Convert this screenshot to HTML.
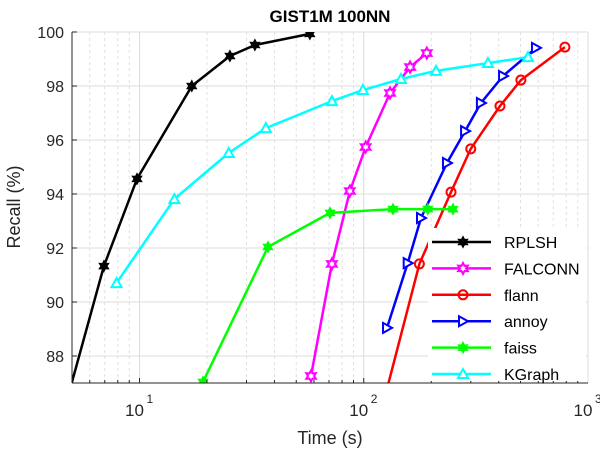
<!DOCTYPE html>
<html><head><meta charset="utf-8"><style>
html,body{margin:0;padding:0;background:#fff;}
svg{display:block;font-family:"Liberation Sans",Arial,sans-serif;}
</style></head><body>
<svg id="chart" width="600" height="450" xmlns="http://www.w3.org/2000/svg">
<defs><clipPath id="plotclip"><rect x="72" y="32" width="516" height="351"/></clipPath></defs>
<rect width="600" height="450" fill="#fff"/>
<g id="grid"></g>
<g id="series" clip-path="url(#plotclip)"></g>
<g id="axes"></g>
<g id="legend"></g>
<text x="330" y="22" text-anchor="middle" font-size="17" font-weight="bold">GIST1M 100NN</text>
<text x="330" y="444" text-anchor="middle" font-size="18" fill="#262626">Time (s)</text>
<text transform="translate(20,207) rotate(-90)" text-anchor="middle" font-size="18" fill="#262626">Recall (%)</text>
</svg>
<script>
const seriesNames = ["RPLSH","FALCONN","flann","annoy","faiss","KGraph"];
const rplshTime = [4.8, 6.94, 9.75, 17.1, 25.3, 32.7, 57.5];
const rplshRecall = [86.5, 91.33, 94.56, 98.0, 99.11, 99.52, 99.93];
const falconnTime = [58.2, 72.1, 86.7, 102, 131, 161, 191];
const falconnRecall = [87.26, 91.41, 94.11, 95.74, 97.74, 98.70, 99.22];
const flannTime = [120, 177, 245, 300, 405, 502, 789];
const flannRecall = [86.0, 91.41, 94.07, 95.67, 97.26, 98.22, 99.44];
const annoyTime = [127, 157, 180, 235, 283, 333, 418, 586];
const annoyRecall = [89.04, 91.44, 93.11, 95.15, 96.33, 97.37, 98.37, 99.41];
const faissTime = [19.2, 37.4, 70.7, 135, 193, 250];
const faissRecall = [87.04, 92.04, 93.30, 93.44, 93.44, 93.44];
const kgraphTime = [7.9, 14.3, 25.0, 36.6, 72.1, 99.1, 146.5, 210, 358, 540];
const kgraphRecall = [90.70, 93.81, 95.52, 96.44, 97.44, 97.85, 98.26, 98.56, 98.85, 99.07];
const yTicks = [88, 90, 92, 94, 96, 98, 100];
const xDecades = [1, 2, 3];

const X0=72, X1=588, Y0=32, Y1=383, XMIN=5, XMAX=1000, YMIN=87, YMAX=100;
const xs = t => X0 + (Math.log10(t)-Math.log10(XMIN))/(Math.log10(XMAX)-Math.log10(XMIN))*(X1-X0);
const ys = v => Y0 + (YMAX-v)/(YMAX-YMIN)*(Y1-Y0);
const NS="http://www.w3.org/2000/svg";
function mk(tag, attrs, parent){const e=document.createElementNS(NS,tag);for(const k in attrs)e.setAttribute(k,attrs[k]);parent.appendChild(e);return e;}
const grid=document.getElementById('grid'), ser=document.getElementById('series'), axes=document.getElementById('axes'), leg=document.getElementById('legend');

for(let d=0; d<3; d++){for(let m=1;m<=9;m++){const t=m*Math.pow(10,d);if(t<XMIN||t>XMAX)continue;
 const x=xs(t);
 if(m===1){const l=mk('line',{x1:x,x2:x,y1:Y0,y2:Y1,stroke:'#dcdcdc','stroke-width':1},grid);
  }
 else{const l=mk('line',{x1:x,x2:x,y1:Y0,y2:Y1,stroke:'#e0e0e0','stroke-width':1,'stroke-dasharray':'3,3'},grid);
  }
 const tk=mk('line',{x1:x,x2:x,y1:Y1,y2:Y1-(m===1?5:3),stroke:'#262626','stroke-width':1},axes);
 
}}
{const x=xs(1000);const l=mk('line',{x1:x,x2:x,y1:Y0,y2:Y1,stroke:'#dcdcdc','stroke-width':1},grid);
 }
yTicks.forEach(v=>{const y=ys(v);
 const l=mk('line',{x1:X0,x2:X1,y1:y,y2:y,stroke:'#dcdcdc','stroke-width':1},grid);
 
 const tk=mk('line',{x1:X0,x2:X0+5,y1:y,y2:y,stroke:'#262626','stroke-width':1},axes);
 
 const t=mk('text',{x:X0-8,y:y+6,'text-anchor':'end','font-size':16,fill:'#262626'},axes);t.textContent=v;
 
});
xDecades.forEach(p=>{const x=xs(Math.pow(10,p));
 const t=mk('text',{x:x-5,y:416,'text-anchor':'middle','font-size':17,fill:'#262626'},axes);
 t.textContent='10';
 
 const s=mk('text',{x:x+7,y:403,'text-anchor':'start','font-size':12,fill:'#262626'},axes);s.textContent=p;
 
});
const ax1=mk('line',{x1:X0,x2:X0,y1:Y0,y2:Y1,stroke:'#262626','stroke-width':1},axes);

const ax2=mk('line',{x1:X0,x2:X1,y1:Y1,y2:Y1,stroke:'#262626','stroke-width':1},axes);


function star(cx,cy,r){let p=[];for(let i=0;i<12;i++){const a=-Math.PI/2+i*Math.PI/6;const rr=i%2?r*0.55:r;p.push((cx+rr*Math.cos(a)).toFixed(1)+','+(cy+rr*Math.sin(a)).toFixed(1));}return p.join(' ');}
function marker(kind,cx,cy,color,parent){
 let e;
 if(kind==='hexfill'){e=mk('polygon',{points:star(cx,cy,5),fill:color,stroke:color,'stroke-width':1.5},parent);}
 else if(kind==='hex'){e=mk('polygon',{points:star(cx,cy,5.5),fill:'#fff',stroke:color,'stroke-width':2},parent);}
 else if(kind==='circle'){e=mk('circle',{cx:cx,cy:cy,r:4.5,fill:'none',stroke:color,'stroke-width':2},parent);}
 else if(kind==='tri-right'){e=mk('polygon',{points:`${cx-4},${cy-5} ${cx+5},${cy} ${cx-4},${cy+5}`,fill:'#fff',stroke:color,'stroke-width':2},parent);}
 else {e=mk('polygon',{points:`${cx},${cy-5} ${cx+5},${cy+4} ${cx-5},${cy+4}`,fill:'#fff',stroke:color,'stroke-width':2},parent);}
 return e;
}
const defs=[
 {name:'RPLSH',t:rplshTime,r:rplshRecall,c:'#000000',m:'hexfill'},
 {name:'FALCONN',t:falconnTime,r:falconnRecall,c:'#ff00ff',m:'hex'},
 {name:'flann',t:flannTime,r:flannRecall,c:'#ff0000',m:'circle'},
 {name:'annoy',t:annoyTime,r:annoyRecall,c:'#0000ff',m:'tri-right'},
 {name:'faiss',t:faissTime,r:faissRecall,c:'#00ff00',m:'hexfill'},
 {name:'KGraph',t:kgraphTime,r:kgraphRecall,c:'#00ffff',m:'tri-up'}
];
defs.forEach(s=>{
 const g=mk('g',{},ser);
 
 
 const pts=s.t.map((t,i)=>xs(t).toFixed(1)+','+ys(s.r[i]).toFixed(1)).join(' ');
 const pl=mk('polyline',{points:pts,fill:'none',stroke:s.c,'stroke-width':2.5,'stroke-linejoin':'round'},g);
 
 
 s.t.forEach((t,i)=>{const m=marker(s.m,xs(t),ys(s.r[i]),s.c,g);
  
  });
});
const lb=mk('rect',{x:428,y:228,width:158,height:153,fill:'#fff'},leg);

defs.forEach((s,i)=>{const y=242+i*26.4;
 const g=mk('g',{},leg);
 
 
 mk('line',{x1:432,x2:491,y1:y,y2:y,stroke:s.c,'stroke-width':2.5},g);
 marker(s.m,463,y,s.c,g);
 const t=mk('text',{x:504,y:y+6,'font-size':16,fill:'#000'},g);t.textContent=s.name;
});
</script>
</body></html>
